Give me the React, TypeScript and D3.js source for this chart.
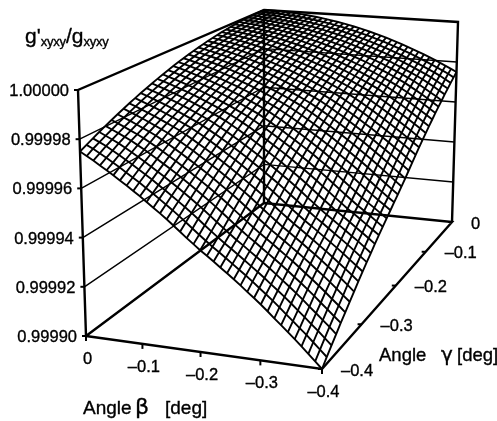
import React from "react";
import * as d3 from "d3";

const zTicks = [1.0, 0.99998, 0.99996, 0.99994, 0.99992, 0.9999];
const zLabels = ["1.00000", "0.99998", "0.99996", "0.99994", "0.99992", "0.99990"];
const betaTicks = [0, -0.1, -0.2, -0.3, -0.4];
const gammaTicks = [0, -0.1, -0.2, -0.3, -0.4];
const meshCells = 36;
// Drop of g'/g below 1 (in 1e-6), along the mesh steps counted from the (0,0) corner.
const surfaceDrop = [
  0, 0.02, 0.08, 0.17, 0.31, 0.48, 0.69, 0.95, 1.23, 1.56, 1.93, 2.33, 2.78, 3.26, 3.78, 4.34, 4.94, 5.57,
  6.25, 6.96, 7.72, 8.51, 9.34, 10.2, 11.11, 12.06, 13.04, 14.06, 15.12, 16.22, 17.36, 18.54, 19.75, 21.01, 22.3, 23.63, 25,
  26.6, 28.2, 29.9, 31.6, 33.4, 35.2, 37, 38.9, 40.8, 42.8, 44.8, 46.8, 48.9, 51.1, 53.3, 55.5, 57.6, 59.7,
  61.6, 63.6, 65.6, 67.6, 69.6, 71.7, 73.9, 76, 78.2, 80.5, 82.9, 85.2, 87.6, 89.9, 92.4, 94.9, 97.4, 100,
];

type P = [number, number];
const floorQuad: P[] = [[264, 203], [452, 222], [322, 369], [86, 336]];
const topQuad: P[] = [[264, 10], [458, 22], [326, 109], [78, 90]];

function homography(q: P[]) {
  const [[x0, y0], [x1, y1], [x2, y2], [x3, y3]] = q;
  const dx1 = x1 - x2, dx2 = x3 - x2, sx = x0 - x1 + x2 - x3;
  const dy1 = y1 - y2, dy2 = y3 - y2, sy = y0 - y1 + y2 - y3;
  const den = dx1 * dy2 - dx2 * dy1;
  const g = (sx * dy2 - dx2 * sy) / den;
  const h = (dx1 * sy - sx * dy1) / den;
  const a = x1 - x0 + g * x1, b = x3 - x0 + h * x3;
  const d = y1 - y0 + g * y1, e = y3 - y0 + h * y3;
  return (u: number, v: number): P => {
    const w = g * u + h * v + 1;
    return [(a * u + b * v + x0) / w, (d * u + e * v + y0) / w];
  };
}
const floorH = homography(floorQuad);
const topH = homography(topQuad);
const uScale = d3.scaleLinear().domain([0, -0.4]).range([0, 1]);
const vScale = d3.scaleLinear().domain([0, -0.4]).range([0, 1]);
const zScale = d3.scaleLinear().domain([0.9999, 1.0]).range([0, 1]);

function project(beta: number, gamma: number, z: number): P {
  const u = uScale(beta), v = vScale(gamma), t = zScale(z);
  const f = floorH(u, v), c = topH(u, v);
  return [f[0] + (c[0] - f[0]) * t, f[1] + (c[1] - f[1]) * t];
}
const line = d3.line<P>().x((d) => d[0]).y((d) => d[1]);
const betaGrid = d3.range(meshCells + 1).map((i) => uScale.invert(i / meshCells));
const gammaGrid = d3.range(meshCells + 1).map((i) => vScale.invert(i / meshCells));
const surfaceAt = (i: number, j: number) => 1 - surfaceDrop[i + j] * 1e-6;

const meshPaths: string[] = [];
betaGrid.forEach((b, i) =>
  meshPaths.push(line(gammaGrid.map((g, j) => project(b, g, surfaceAt(i, j))))!)
);
gammaGrid.forEach((g, j) =>
  meshPaths.push(line(betaGrid.map((b, i) => project(b, g, surfaceAt(i, j))))!)
);

const font = "'Liberation Sans', Arial, sans-serif";
const ink = "#000";

export default function App() {
  const [b0, g0, bEnd, gEnd, zMin, zMax] = [0, 0, -0.4, -0.4, 0.9999, 1.0];
  const corner = (b: number, g: number, z: number) => project(b, g, z);
  const heavy = [
    [corner(b0, gEnd, zMin), corner(bEnd, gEnd, zMin), corner(bEnd, g0, zMin), corner(b0, g0, zMin), corner(b0, gEnd, zMin)],
    [corner(b0, gEnd, zMin), corner(b0, gEnd, zMax), corner(b0, g0, zMax), corner(bEnd, g0, zMax), corner(bEnd, g0, zMin)],
    [corner(b0, g0, zMin), corner(b0, g0, zMax)],
  ];
  const textStyle = { stroke: ink, strokeWidth: 0.35, fill: ink } as const;
  return (
    <svg
      width={497}
      height={421}
      viewBox="0 0 497 421"
      style={{ position: "absolute", left: 0, top: 0, background: "#fff" }}
      fontFamily={font}
    >
      <defs>
        <filter id="soft" x="-2%" y="-2%" width="104%" height="104%">
          <feGaussianBlur stdDeviation={0.35} />
        </filter>
      </defs>
      <g filter="url(#soft)">
        {zTicks.slice(1, 5).map((z) => (
          <path
            key={z}
            d={line([corner(b0, gEnd, z), corner(b0, g0, z), corner(bEnd, g0, z)])!}
            fill="none"
            stroke={ink}
            strokeWidth={1.4}
          />
        ))}
        {heavy.map((pts, i) => (
          <path key={i} d={line(pts)!} fill="none" stroke={ink} strokeWidth={2.4} strokeLinejoin="miter" />
        ))}
        <g fill="none" stroke={ink} strokeWidth={1.9}>
          {meshPaths.map((d, i) => (
            <path key={i} d={d} />
          ))}
        </g>
        {zTicks.map((z, i) => {
          const [x, y] = corner(b0, gEnd, z);
          return (
            <g key={z}>
              <line x1={x - 4} x2={x} y1={y} y2={y} stroke={ink} strokeWidth={2} />
              <text x={x - 9} y={y + 6} textAnchor="end" fontSize={16.5} {...textStyle}>
                {zLabels[i]}
              </text>
            </g>
          );
        })}
        {betaTicks.map((b) => {
          const [x, y] = corner(b, gEnd, zMin);
          return (
            <g key={b}>
              <line x1={x} x2={x} y1={y} y2={y + 5} stroke={ink} strokeWidth={2} />
              <text x={x + 1.5} y={y + 28} textAnchor="middle" fontSize={16.5} {...textStyle}>
                {b === 0 ? "0" : `\u2013${Math.abs(b).toFixed(1)}`}
              </text>
            </g>
          );
        })}
        {gammaTicks.map((g) => {
          const [x, y] = corner(bEnd, g, zMin);
          return (
            <g key={g}>
              <line x1={x - 4} x2={x} y1={y} y2={y} stroke={ink} strokeWidth={2} />
              <text x={x + 19} y={y + 6.5} fontSize={16.5} {...textStyle}>
                {g === 0 ? "0" : `\u2013${Math.abs(g).toFixed(1)}`}
              </text>
            </g>
          );
        })}
        <text y={414} fontSize={19} {...textStyle}>
          <tspan x={83}>Angle</tspan>
          <tspan x={135} fontSize={22} fontFamily="'DejaVu Sans'">{"\u03b2"}</tspan>
          <tspan x={165}>[deg]</tspan>
        </text>
        <text y={361} fontSize={18.5} {...textStyle}>
          <tspan x={379}>Angle</tspan>
          <tspan x={441} fontSize={20} fontFamily="'DejaVu Sans'">{"\u03b3"}</tspan>
          <tspan x={457}>[deg]</tspan>
        </text>
        <text x={25} y={43} fontSize={21} {...textStyle}>
          g'
          <tspan fontSize={13} dy={3} letterSpacing={-0.2}>xyxy</tspan>
          <tspan dy={-3}>/g</tspan>
          <tspan fontSize={13} dy={3} letterSpacing={-0.2}>xyxy</tspan>
        </text>
      </g>
    </svg>
  );
}
